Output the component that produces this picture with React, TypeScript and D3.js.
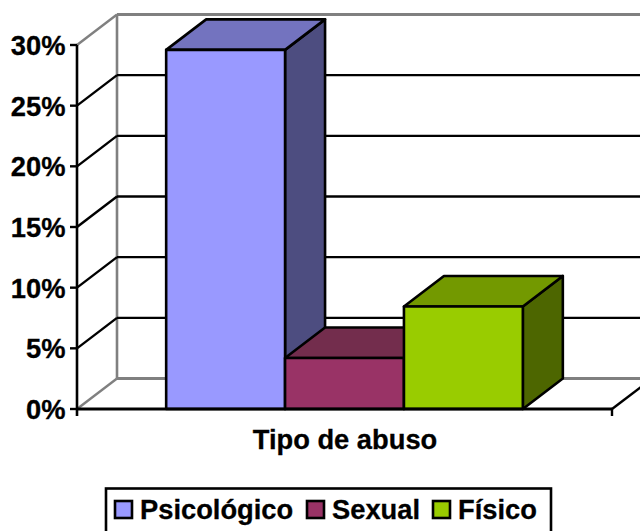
import React from "react";
import * as d3 from "d3";

const categories = ["Psicológico", "Sexual", "Físico"];
const values = [29.6, 4.2, 8.45];
const frontColors = ["#9999FF", "#993366", "#99CC00"];
const topColors = ["#7373BF", "#732D4D", "#739900"];
const sideColors = ["#4D4D80", "#4D1A33", "#4D6600"];
const tickValues = [0, 5, 10, 15, 20, 25, 30];
const xTitle = "Tipo de abuso";
const legendPositions = [
  { sx: 115, tx: 140 },
  { sx: 307, tx: 332 },
  { sx: 433, tx: 458 },
];

const FONT = "'Liberation Sans', Arial, sans-serif";
const FS = 27.3;
const DX = 40;
const DY = -30.5;
const X0 = 77;
const X1 = 612;

export default function App() {
  const y = d3.scaleLinear().domain([0, 30]).range([409, 45]);
  const x = d3.scaleBand<string>().domain(categories).range([X0, X1]).paddingInner(0).paddingOuter(0.75);
  const poly = (pts: number[][]) => pts.map((p) => p.join(",")).join(" ");
  const y0 = y(0);
  const textProps = { fontFamily: FONT, fontWeight: "bold", fontSize: FS, fill: "#000", stroke: "#000", strokeWidth: 0.3 };
  return (
    <svg width={640} height={531} style={{ position: "absolute", left: 0, top: 0, background: "#fff" }}>
      {/* walls */}
      <line x1={X0 + DX} x2={X0 + DX} y1={y(30) + DY} y2={y0 + DY} stroke="#808080" strokeWidth={2.6} />
      {tickValues.map((t) => {
        const c = t === 0 || t === 30 ? "#808080" : "#000";
        return (
          <g key={t}>
            <line x1={X0 + DX} x2={X1 + DX} y1={y(t) + DY} y2={y(t) + DY} stroke={c} strokeWidth={t === 30 || t === 0 ? 3 : 2.4} />
            <line x1={X0} x2={X0 + DX} y1={y(t)} y2={y(t) + DY} stroke={c} strokeWidth={2.4} />
          </g>
        );
      })}
      {/* floor right edge */}
      <line x1={X1} x2={X1 + DX} y1={y0} y2={y0 + DY} stroke="#000" strokeWidth={2.4} />
      {/* bars */}
      {categories.map((c, i) => {
        const l = x(c)!;
        const r = l + x.bandwidth();
        const t = y(values[i]);
        return (
          <g key={c} stroke="#000" strokeWidth={2.6} strokeLinejoin="round">
            <polygon points={poly([[r, t], [r + DX, t + DY], [r + DX, y0 + DY], [r, y0]])} fill={sideColors[i]} />
            <polygon points={poly([[l, t], [l + DX, t + DY], [r + DX, t + DY], [r, t]])} fill={topColors[i]} />
            <rect x={l} y={t} width={r - l} height={y0 - t} fill={frontColors[i]} />
          </g>
        );
      })}
      {/* axes */}
      <line x1={X0} x2={X0} y1={y(30)} y2={y0 + 7} stroke="#000" strokeWidth={2.6} />
      <line x1={X0} x2={X1} y1={y0} y2={y0} stroke="#000" strokeWidth={3} />
      <line x1={X1} x2={X1} y1={y0} y2={y0 + 7} stroke="#000" strokeWidth={2.4} />
      {tickValues.map((t) => (
        <g key={t}>
          <line x1={X0 - 7} x2={X0} y1={y(t)} y2={y(t)} stroke="#000" strokeWidth={2.4} />
          <text x={65.5} y={y(t) + 10} textAnchor="end" {...textProps}>
            {t}%
          </text>
        </g>
      ))}
      <text x={345} y={448.5} textAnchor="middle" {...textProps}>
        {xTitle}
      </text>
      {/* legend */}
      <rect x={106} y={488.5} width={445} height={60} fill="#fff" stroke="#000" strokeWidth={2.6} />
      {categories.map((c, i) => (
        <g key={c}>
          <rect x={legendPositions[i].sx} y={501} width={17} height={17} fill={frontColors[i]} stroke="#000" strokeWidth={2.6} />
          <text x={legendPositions[i].tx} y={519} {...textProps}>
            {c}
          </text>
        </g>
      ))}
    </svg>
  );
}
